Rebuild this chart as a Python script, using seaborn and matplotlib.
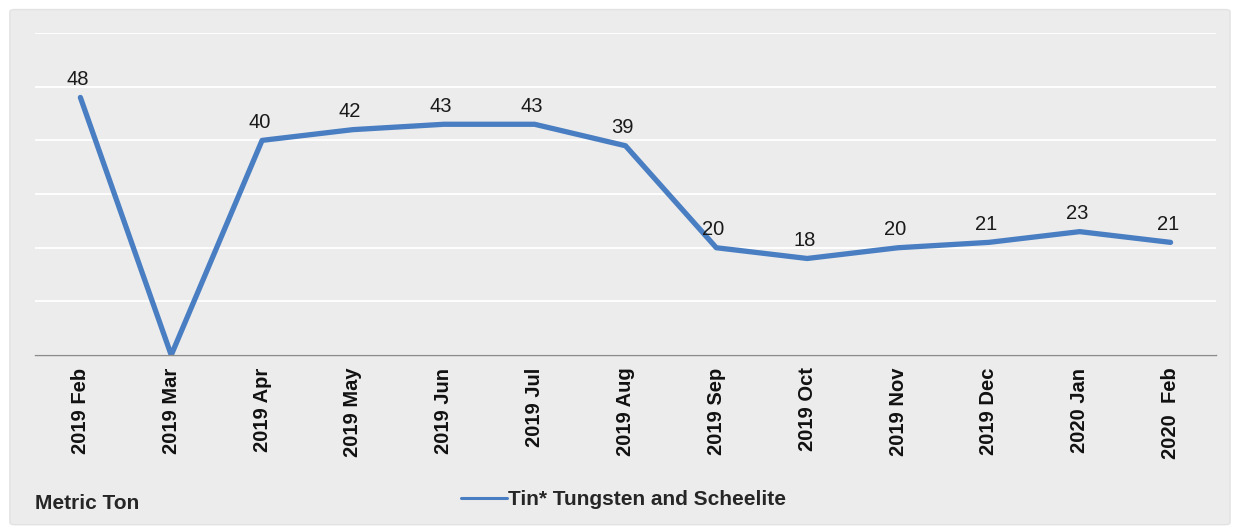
import numpy as np
import pandas as pd
import matplotlib
matplotlib.use('Agg')
import matplotlib.pyplot as plt
import seaborn as sns
from matplotlib.patches import FancyBboxPatch

months = ['2019 Feb', '2019 Mar', '2019 Apr', '2019 May', '2019 Jun', '2019 Jul',
          '2019 Aug', '2019 Sep', '2019 Oct', '2019 Nov', '2019 Dec', '2020 Jan', '2020  Feb']
values = [48, 0, 40, 42, 43, 43, 39, 20, 18, 20, 21, 23, 21]
series_name = 'Tin* Tungsten and Scheelite'
unit_label = 'Metric Ton'

df = pd.DataFrame({'Month': months, 'Value': values, 'Series': series_name})

sns.set_style('white')
plt.rcParams['font.family'] = ['Liberation Sans', 'DejaVu Sans']

bg = '#ececec'
line_color = '#4a7ec2'

fig = plt.figure(figsize=(12.35, 5.3), dpi=100)
fig.patch.set_facecolor('white')
panel = FancyBboxPatch((0.008, 0.01), 0.988, 0.972, boxstyle='round,pad=0,rounding_size=0.004',
                       transform=fig.transFigure, facecolor=bg, edgecolor='#e2e2e2', lw=1, zorder=-10)
fig.patches.append(panel)

ax = fig.add_axes([0.0283, 0.330, 0.9563, 0.6077])
ax.set_zorder(1)
ax.set_facecolor(bg)

sns.lineplot(data=df, x='Month', y='Value', hue='Series', palette=[line_color],
             sort=False, linewidth=3.8, ax=ax, legend=True)

ax.set_ylim(0, 60)
ax.set_xlim(-0.5, len(months) - 0.5)
ax.set_yticks(np.arange(0, 61, 10))
ax.yaxis.grid(True, color='white', linewidth=1.3)
ax.set_axisbelow(True)
ax.tick_params(axis='y', left=False, labelleft=False)
for s in ['top', 'right', 'left']:
    ax.spines[s].set_visible(False)
ax.spines['bottom'].set_color('#8a8a8a')
ax.spines['bottom'].set_linewidth(1.0)

ax.set_xticks(range(len(months)))
ax.set_xticklabels(months, rotation=90, fontsize=14.5, fontweight='bold', color='#111111')
ax.tick_params(axis='x', which='major', length=0, pad=9)
ax.set_xticks(np.arange(-0.5, len(months), 1), minor=True)
ax.tick_params(axis='x', which='minor', length=5, color='#8a8a8a', direction='out')
ax.set_xlabel('')
ax.set_ylabel('')

for i, v in enumerate(values):
    if v == 0:
        continue
    ax.annotate(str(v), (i, v), xytext=(-2, 6), textcoords='offset points',
                ha='center', va='bottom', fontsize=14.5, color='#1a1a1a')

leg = ax.legend(loc='center', bbox_to_anchor=(0.505, 0.057), bbox_transform=fig.transFigure,
                frameon=False, prop={'weight': 'bold', 'size': 15}, handlelength=2.2,
                handletextpad=0.05)
for ln in leg.get_lines():
    ln.set_linewidth(2.2)

fig.text(0.028, 0.05, unit_label, fontsize=15, fontweight='bold', ha='left', va='center')

fig.savefig('out.png', dpi=100, facecolor=fig.get_facecolor())
